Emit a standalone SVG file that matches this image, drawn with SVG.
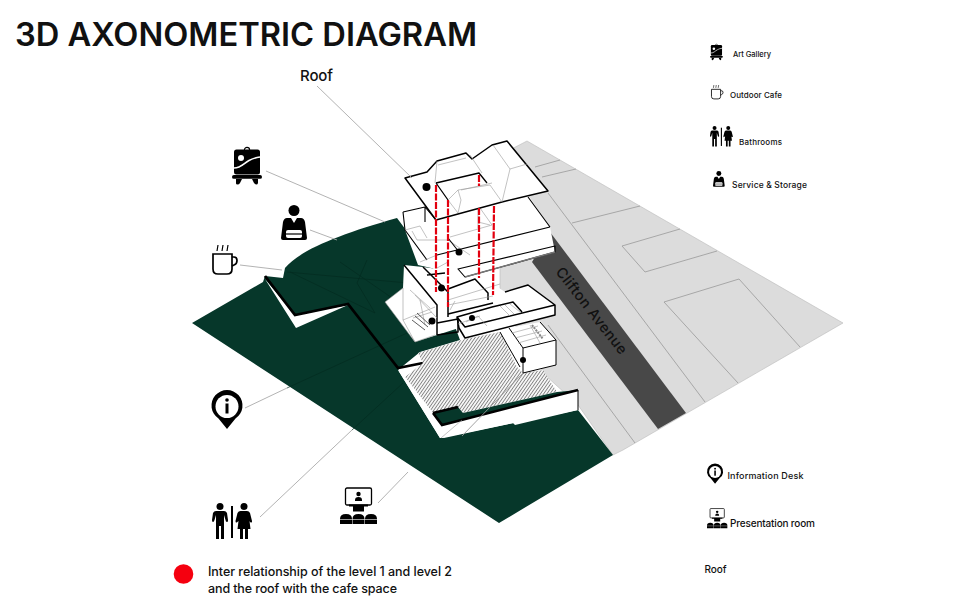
<svg xmlns="http://www.w3.org/2000/svg" width="953" height="601" viewBox="0 0 953 601">
<style>
text{font-family:"Inter","Liberation Sans",sans-serif;fill:#111;font-weight:500}
.leader{fill:none;stroke:#aaa;stroke-width:.9}
.onGreen{fill:none;stroke:#032b20;stroke-width:.7}
.thin{fill:none;stroke:#999;stroke-width:.6}
.grey{fill:none;stroke:#999;stroke-width:.8}
.bold{fill:none;stroke:#000;stroke-width:1.5;stroke-linejoin:round}
.red{fill:none;stroke:#e3000f;stroke-width:2.200;stroke-dasharray:7 1.500}
.dot{fill:#000}
</style>
<defs>
<pattern id="hatch" width="2.6" height="2.6" patternUnits="userSpaceOnUse" patternTransform="rotate(35)">
<rect width="2.6" height="2.6" fill="#f6f6f6"/><rect width=".8" height="2.6" fill="#777"/>
</pattern>
<g id="i-gallery">
<circle cx="15" cy="3" r="2.6" fill="none" stroke="#000" stroke-width="1.2"/>
<rect x="2" y="2.5" width="26" height="25" rx="2.5" fill="#000"/>
<circle cx="9" cy="11" r="3" fill="#fff"/>
<path d="M2 21C9 21 12 16 17 13.500S24 10.500 28 10" fill="none" stroke="#fff" stroke-width="1.6"/>
<rect x="0" y="28" width="30" height="3.800" rx="1.900" fill="#000"/>
<path d="M4 32h6l-2 4q-.8 1.500-2.500 1.500T4 36zM20 32h6v4q-.5 1.500-1.500 1.500T22 36z" fill="#000"/>
</g>
<g id="i-service">
<circle cx="13" cy="5.500" r="5.500" fill="#000"/>
<path d="M6 13h4l3 5 3-5h4q3 0 4 4l2 16q0 2-2 2H2q-2 0-2-2l2-16q1-4 4-4z" fill="#000"/>
<rect x="5" y="25" width="16" height="8" rx="2" fill="#fff"/>
<path d="M5 29h16" stroke="#000" stroke-width="1.200"/>
</g>
<g id="i-cup">
<path d="M6 0l-1 6M11 0l-1 6M16 0l-1 6" stroke="#000" stroke-width="1.200" fill="none"/>
<path d="M1 9h19v15q0 5-5 5H6q-5 0-5-5z" fill="#fff" stroke="#000" stroke-width="1.700"/>
<path d="M20 12h2q3 0 3 3.500T22 20l-2 1" fill="none" stroke="#000" stroke-width="1.700"/>
</g>
<g id="i-info">
<path d="M15.500 38L7 27.500A15.500 15.500 0 1 1 24 27.500z" fill="#000"/>
<circle cx="15.500" cy="15.500" r="11.500" fill="#fff"/>
<circle cx="15.500" cy="9" r="1.800" fill="#000"/>
<rect x="14" y="12.500" width="3" height="10" fill="#000"/>
</g>
<g id="i-wc">
<circle cx="8" cy="3.500" r="3.500" fill="#000"/>
<path d="M4 8h8q2 0 3 2l1 7q.3 2-1 2t-1.500-2L12 12v24h-3V23H7v13H4V12l-1.500 5Q2 19 1 19t-1-2l1-7q1-2 3-2z" fill="#000"/>
<rect x="19" y="3" width="2" height="32" fill="#000"/>
<circle cx="32" cy="3.500" r="3.500" fill="#000"/>
<path d="M29 8h6q2 0 3 2l2 8q.3 1.500-.8 1.500T37.500 18l1 8H36v10h-3V26h-2v10h-3V26h-2.500l1-8-1.700 1.500q-1.300.5-1.300-1.500l2-8q1-2 3-2z" fill="#000"/>
</g>
<g id="i-pres">
<rect x="5.500" y="1" width="26" height="17" rx="1.500" fill="#fff" stroke="#000" stroke-width="1.300"/>
<circle cx="18.500" cy="7" r="2.200" fill="#000"/>
<path d="M15 13q0-3 3.500-3t3.500 3v1h-7z" fill="#000"/>
<path d="M9 17.500h19v2h-4v5h-11v-5h-4z" fill="#000"/>
<path d="M0 37v-5q0-5 6-5t6 5v5zM12.500 37v-5q0-5 6-5t6 5v5zM25 37v-5q0-5 6-5t6 5v5z" fill="#000"/>
<path d="M0 32.500h37" stroke="#fff" stroke-width=".6"/>
</g>
</defs>
<rect width="953" height="601" fill="#fff"/>
<text x="15" y="46" font-size="32" textLength="462" lengthAdjust="spacingAndGlyphs" style="font-weight:600">3D AXONOMETRIC DIAGRAM</text>

<g id="site">
<polygon points="527,141 843,323 623,450 613,455 578,405 545,375 500,300 500,155" fill="#dcdcdc" stroke="#bbb" stroke-width=".6"/>
<g class="grey">
<path d="M535,167L560,160M542,177L576,169M548,193L705,402M572,223L640,206M622,246L680,229M622,246L645,272L717,251M664,302L739,279L800,347M664,302L738,383M548,325L635,443"/>
</g>
<polygon points="550,232 686,413 658,429 532,262" fill="#484848"/>
<path id="green" d="M192,323L263,282L265,276L283,278L285,268C300,250 340,234 397,218L432,265L460,340L420,352L398,370L440,438L578,410L613,455L499,523Z" fill="#06372a"/>
<g class="onGreen">
<path d="M287,272L430,285M367,260L357,283L375,313M290,272L375,313M287,388L407,333M352,430L403,383M340,262L395,300"/>
</g>
</g>

<g id="walls">
<polygon points="265,279 296,328 348,305 295,315" fill="#fff"/>
<path d="M265,276L295,315L348,304L398,368L423,363" fill="none" stroke="#000" stroke-width="2.800" stroke-linejoin="miter"/>
<polygon points="418,353 465,339 500,332 517,367 523,373 543,370 557,392 463,413 458,407 433,413 405,377 423,363" fill="url(#hatch)"/>
<polygon points="398,370 405,377 433,413 442,425 444,438 440,438" fill="#fff"/>
<polygon points="433,413 458,407 463,413 557,392 578,390 442,425" fill="#06372a"/>
<polygon points="442,425 578,390 578,410 515,425 513,423 444,438" fill="#fff"/>
<path d="M433,413L458,407M433,413L442,425L578,390" fill="none" stroke="#000" stroke-width="2.600"/>
<path d="M578,390V410" stroke="#000" stroke-width="1" fill="none"/>
<path d="M441,438L462,420" class="thin"/>
</g>

<g id="level-1">
<polygon points="404,265 423,267 480,275 505,292 528,285 555,305 555,315 465,338 459,328 437,335 415,342 385,302 403,288" fill="#fff"/>
<path d="M404,265L437,305V335" class="bold"/>
<path d="M423,267L448,292V317M427,275L445,273M448,289L475,279L488,293V300" class="bold"/>
<path d="M448,314L493,303M437,323L458,319V332L437,335" class="bold"/>
<path d="M505,292L528,285L555,305V315L465,338L459,328L457,317L492,307L513,302L522,312M457,317L465,327L555,305" class="bold"/>
<path d="M403,288V320L415,342M385,302L403,288M385,302L415,342L435,335M403,320L435,307M410,290L430,308M420,300L425,325M413,318L432,312M448,300L500,284M448,305L493,296M415,295L437,318M455,301L450,310" class="thin"/>
<path d="M412,320L425,330M415,316L428,327M417,313L430,325" fill="none" stroke="#333" stroke-width=".8"/>
<path d="M466,322L478,316L487,326M458,324L480,316M500,306L510,316M505,305L514,314M510,304L520,312" class="thin"/>
</g>

<g id="service-box">
<polygon points="500,332 509,328 540,322 556,340 556,365 523,373 520,367" fill="#fff"/>
<path d="M509,328L523,348L556,340V365L523,373V348M520,367L500,332M540,322L556,340" class="bold" style="stroke-width:1"/>
<path d="M512,333L538,326M515,338L542,331M518,343L546,335M530,325L540,343" class="thin"/>
<path d="M532,325L543,339" fill="none" stroke="#888" stroke-width="2" stroke-dasharray="2 1"/>
</g>

<g id="level-2">
<polygon points="403,212 425,207 528,195 550,227 555,252 465,277 458,269 440,270 418,265 405,230" fill="#fff"/>
<path d="M403,212L425,207L436,220M403,212L405,230L427,260M425,207V222" class="bold" style="stroke-width:1.100"/>
<path d="M528,197L550,227M437,255L550,227M458,269L555,246L555,252L465,277Z" class="bold" style="stroke-width:1.100"/>
<path d="M465,277L555,252" fill="none" stroke="#777" stroke-width="1.500"/>
<path d="M405,230L420,226L427,238M412,231L417,240L448,240L470,255M450,237L492,225L480,208M478,208V228M478,222L490,225M437,268L448,262M420,262L437,255" class="thin"/>
<path d="M448,238L459,252" stroke="#000" stroke-width="1.100" fill="none"/>
</g>

<g id="roof">
<polygon points="405,178 427,172 437,161 466,153 472,159 492,145 507,141 548,191 502,202 436,220" fill="#fff"/>
<path d="M405,178L427,172L437,161L466,153L472,159L492,145L507,141L548,191L502,202L436,220Z" class="bold"/>
<path d="M436,183L479,173L487,183M436,183L448,200" class="bold" style="stroke-width:1.300"/>
<path d="M437,161L435,183M438,165L466,158M493,145L510,169L502,202M510,169L527,164M448,200L458,190L490,185L502,202M458,190L461,200L458,213L448,200M461,190L492,183M470,155L482,173" class="thin"/>
</g>

<g id="red-links">
<path class="red" d="M436,185V292M448,200V307M479,175V186M479,208V278M494,206L493,295"/>
</g>

<g id="markers">
<circle class="dot" cx="426.500" cy="187" r="4"/>
<circle class="dot" cx="459" cy="252" r="3.500"/>
<circle class="dot" cx="441.500" cy="288" r="3.500"/>
<circle class="dot" cx="432" cy="321" r="3.500"/>
<circle class="dot" cx="472" cy="318" r="3"/>
<circle class="dot" cx="523" cy="360" r="3"/>
</g>

<g id="connectors">
<path class="leader" d="M317,86L412,178M266,171L385,222M310,230L337,240M240,265L282,270M245,408L287,388M260,517L352,430M378,503L408,472"/>
<path class="leader" d="M462,436L523,373" style="stroke:#999"/>
</g>

<g id="label-roof"><text x="300" y="81" font-size="15" textLength="33">Roof</text></g>
<g id="node-gallery"><use href="#i-gallery" transform="translate(232,147)"/></g>
<g id="node-service"><use href="#i-service" transform="translate(281,205)"/></g>
<g id="node-cafe"><use href="#i-cup" transform="translate(212,245)"/></g>
<g id="node-info"><use href="#i-info" transform="translate(211.500,391)"/></g>
<g id="node-bathroom"><use href="#i-wc" transform="translate(212,503)"/></g>
<g id="node-presentation"><use href="#i-pres" transform="translate(340,487)"/></g>

<g id="street-label"><text transform="translate(555,272) rotate(52)" font-size="14.500" textLength="106">Clifton Avenue</text></g>

<g id="legend-top">
<g id="legend-gallery"><use href="#i-gallery" transform="translate(710,44) scale(.43)"/><text x="733" y="57" font-size="7.500" textLength="38">Art Gallery</text></g>
<g id="legend-cafe"><use href="#i-cup" transform="translate(711,85) scale(.48)"/><text x="730" y="98" font-size="8" textLength="52">Outdoor Cafe</text></g>
<g id="legend-bath"><use href="#i-wc" transform="translate(710,126) scale(.57)"/><text x="739" y="145" font-size="8" textLength="43">Bathrooms</text></g>
<g id="legend-service"><use href="#i-service" transform="translate(713,171) scale(.45)"/><text x="732" y="188" font-size="8.500" textLength="75">Service &amp; Storage</text></g>
</g>
<g id="legend-bottom">
<g id="legend-info"><use href="#i-info" transform="translate(707,464) scale(.52)"/><text x="727.500" y="479" font-size="9" textLength="76">Information Desk</text></g>
<g id="legend-pres"><use href="#i-pres" transform="translate(707,508) scale(.55)"/><text x="730" y="527" font-size="10" textLength="85">Presentation room</text></g>
<g id="legend-roof"><text x="704.500" y="573" font-size="10" textLength="22">Roof</text></g>
</g>
<g id="legend-red">
<circle cx="183.500" cy="574" r="9.800" fill="#f5000f"/>
<text x="208" y="576" font-size="12.500" textLength="244">Inter relationship of the level 1 and level 2</text>
<text x="208" y="593" font-size="12.500" textLength="189">and the roof with the cafe space</text>
</g>
</svg>
